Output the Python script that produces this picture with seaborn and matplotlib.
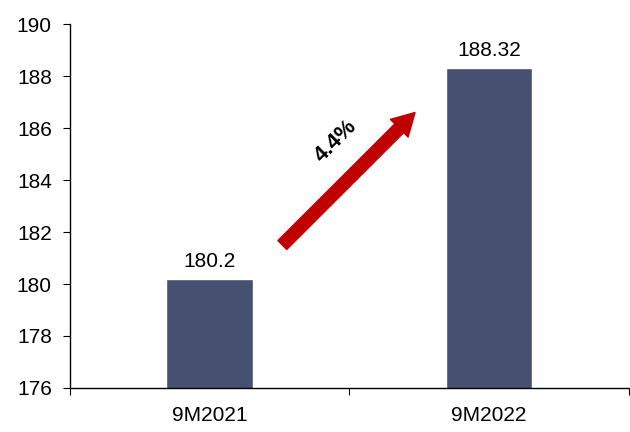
import pandas as pd
import seaborn as sns
import matplotlib.pyplot as plt

# Values
periods = ["9M2021", "9M2022"]
values = [180.2, 188.32]
value_labels = ["180.2", "188.32"]
growth_label = "4.4%"

df = pd.DataFrame({"Period": periods, "Value": values})

sns.set_style("ticks")
plt.rcParams["font.family"] = ["Liberation Sans", "DejaVu Sans"]
plt.rcParams["text.color"] = "black"
plt.rcParams["xtick.color"] = "black"
plt.rcParams["ytick.color"] = "black"

fig = plt.figure(figsize=(6.3, 4.32), dpi=100)
ax = fig.add_axes([0.111, 0.102, 0.887, 0.842])

sns.barplot(data=df, x="Period", y="Value", color="#465070",
            saturation=1, width=0.31, ax=ax)

ax.set_ylim(176, 190)
ax.set_yticks(range(176, 191, 2))
ax.set_xlim(-0.5, 1.5)
ax.set_xlabel("")
ax.set_ylabel("")

# category boundary ticks on the x axis
ax.set_xticks([-0.5, 0.5, 1.5], minor=False)
ax.set_xticklabels([])
ax.set_xticks([0, 1], minor=True)
ax.set_xticklabels(periods, minor=True)
ax.tick_params(axis="x", which="minor", length=0, pad=13, labelsize=15)
ax.tick_params(axis="x", which="major", length=5, direction="out")
ax.tick_params(axis="y", length=5, direction="out", labelsize=15, pad=8)

for s in ["top", "right"]:
    ax.spines[s].set_visible(False)
for s in ["left", "bottom"]:
    ax.spines[s].set_color("black")
    ax.spines[s].set_linewidth(1)

for i, (v, lab) in enumerate(zip(values, value_labels)):
    ax.text(i, v + 0.3, lab, ha="center", va="bottom", fontsize=15)

# growth arrow
ax.annotate("", xy=(0.735, 186.6), xytext=(0.26, 181.5),
            arrowprops=dict(arrowstyle="simple,head_length=0.8,head_width=0.9,tail_width=0.45",
                            color="#C00000", mutation_scale=20, shrinkA=0, shrinkB=0))
ax.text(0.45, 185.5, growth_label, rotation=45, ha="center", va="center",
        fontsize=16, fontweight="bold")

plt.savefig("out.png", dpi=100)
